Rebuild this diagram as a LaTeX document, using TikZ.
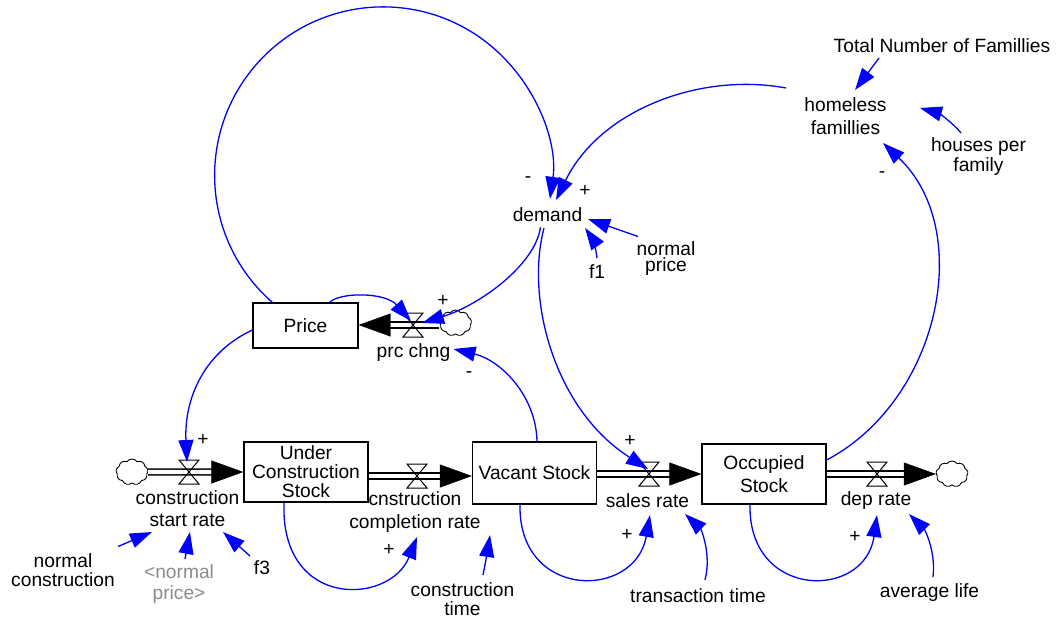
\documentclass[tikz,border=0pt]{standalone}
\usepackage{fontspec}
\setmainfont{Liberation Sans}
\usetikzlibrary{arrows.meta,calc,shapes.symbols}
\definecolor{vblue}{RGB}{0,0,255}
\definecolor{ghost}{RGB}{140,140,140}
\newcommand\vfs[1]{\fontsize{19.2}{#1}\selectfont}
\tikzset{valve/.pic={\draw[line width=1pt] (-10,-12) -- (10,-12) -- (-10,12) -- (10,12) -- cycle;}}
\begin{document}
\begin{tikzpicture}[x=1pt,y=-1pt,
  stock/.style={draw, line width=1.3pt, align=center, inner sep=0, font=\vfs{21}},
  lbl/.style={align=center, inner sep=0, font=\vfs{21}},
  conn/.style={vblue, line width=1.3pt, -{Triangle[length=22pt,width=15pt]}},
  pipe/.style={double distance=4.3pt, line width=1.5pt, shorten >=20pt},
  pipetip/.style={white, line width=0.4pt, -{Triangle[length=32pt,width=23pt,color=black,fill=black]}},
  cloudy/.style={cloud, cloud puffs=9, cloud puff arc=110, aspect=1.35, draw, line width=0.9pt, minimum width=32pt, minimum height=26pt, inner sep=0},
  vslot/.style={inner sep=0, minimum width=20pt, minimum height=24pt},
  sgn/.style={inner sep=0, font=\vfs{21}}
]
\fill[white] (0,0) rectangle (1056,618);
\useasboundingbox (0,0) rectangle (1056,618);

% stocks
\node[stock, minimum width=105pt, minimum height=45pt] (price) at (305.5,325.5) {Price};
\node[stock, minimum width=124pt, minimum height=60pt, font=\vfs{19}] (ucs) at (306,472) {Under\\Construction\\Stock};
\node[stock, minimum width=124pt, minimum height=62pt] (vac) at (534.5,473) {Vacant Stock};
\node[stock, minimum width=124pt, minimum height=60pt, font=\vfs{23}] (occ) at (764,474) {Occupied\\Stock};

% clouds
\node[cloudy] (c1) at (132,472) {};
\node[cloudy] (c2) at (952,474) {};
\node[cloudy] (cp) at (455.5,323) {};

% valves
\node[vslot] (v1) at (189,472) {};
\node[vslot] (v2) at (417,476) {};
\node[vslot] (v3) at (649,474) {};
\node[vslot] (v4) at (877,474) {};
\node[vslot] (vp) at (413,325) {};

% pipes
\draw[pipe] (c1.east) -- (ucs.west);
\draw[pipetip] (c1.east) -- (ucs.west);
\draw[pipe] (ucs.east |- v2) -- (vac.west |- v2);
\draw[pipetip] (ucs.east |- v2) -- (vac.west |- v2);
\draw[pipe] (vac.east |- v3) -- (occ.west |- v3);
\draw[pipetip] (vac.east |- v3) -- (occ.west |- v3);
\draw[pipe] (occ.east |- v4) -- (c2.west |- v4);
\draw[pipetip] (occ.east |- v4) -- (c2.west |- v4);
\draw[pipe] (cp.west |- vp) -- (price.east |- vp);
\draw[pipetip] (cp.west |- vp) -- (price.east |- vp);

\pic at (v1) {valve};
\pic at (v2) {valve};
\pic at (v3) {valve};
\pic at (v4) {valve};
\pic at (vp) {valve};

% flow labels
\node[lbl, font=\vfs{22}] (v1lab) at (187.5,509) {construction\\start rate};
\node[lbl, font=\vfs{23}] (v2lab) at (415,512.5) {cnstruction\\completion rate};
\node[lbl] (v3lab) at (647.5,501) {sales rate};
\node[lbl] (v4lab) at (876,501) {dep rate};
\node[lbl] (vplab) at (413.5,353) {prc chng};

% auxiliaries
\node[lbl] (demand) at (547.5,215) {demand};
\node[lbl, font=\vfs{23}] (homeless) at (845.5,116.5) {homeless\\famillies};
\node[lbl] (total) at (942,46) {Total Number of Famillies};
\node[lbl, font=\vfs{20}] (hpf) at (978.5,157) {houses per\\family};
\node[lbl, font=\vfs{16}] (nprice) at (666,259) {normal\\price};
\node[lbl] (f1) at (597,272) {f1};
\node[lbl, font=\vfs{19}] (ncons) at (63,570.5) {normal\\construction};
\node[lbl, font=\vfs{21}, text=ghost] (np2) at (179,584.5) {<normal\\price>};
\node[lbl] (f3) at (262,568) {f3};
\node[lbl, font=\vfs{19}] (ctime) at (462.5,599) {construction\\time};
\node[lbl] (ttime) at (698,596) {transaction time};
\node[lbl] (alife) at (929.5,593) {average life};

% connectors
\draw[conn] ($(price.north east)+(-29,0)$) .. controls (340,292) and (385,292) .. ($(vp)+(-2,-4)$);
\draw[conn] ($(demand.south)+(-7,5)$) .. controls (535,265) and (480,305) .. ($(vp)+(9,-2)$);
\draw[conn] ($(price.north west)+(20,0)$) arc[start angle=131.1, end angle=368, radius=168.5];
\draw[conn] ($(homeless)+(-59.5,-28.5)$) .. controls (700,72) and (600,110) .. ($(demand)+(8.5,-15)$);
\draw[conn] ($(nprice)+(-28,-22.5)$) -- ($(demand)+(40.5,4)$);
\draw[conn] ($(f1)+(0,-14)$) .. controls (596,248) and (592,238) .. ($(demand)+(37.5,13)$);
\draw[conn] ($(demand)+(-3.5,13)$) .. controls (525,300) and (555,410) .. ($(v3)+(-1,-5)$);
\draw[conn] ($(vac.north)+(2.5,0)$) .. controls (536,395) and (500,360) .. ($(vplab)+(40,-4)$);
\draw[conn] ($(occ.east)+(0,-14)$) .. controls (940,400) and (975,230) .. ($(homeless)+(37.5,26.5)$);
\draw[conn] ($(total)+(-63,12)$) -- ($(homeless)+(9.5,-26.5)$);
\draw[conn] ($(hpf)+(-17.5,-24)$) .. controls (952,122) and (938,113) .. ($(homeless)+(74.5,-8.5)$);
\draw[conn] ($(price.west)+(0,4.5)$) .. controls (203,353) and (184,400) .. ($(v1)+(-2,-10)$);
\draw[conn] ($(ucs.south)+(-22,0)$) .. controls (280,610) and (390,605) .. ($(v2lab)+(2,24.5)$);
\draw[conn] ($(ctime)+(20.5,-24)$) .. controls (486,560) and (488,548) .. ($(v2lab)+(75,22.5)$);
\draw[conn] ($(vac.south)+(-14.5,0)$) .. controls (518,600) and (635,600) .. ($(v3lab)+(2.5,14)$);
\draw[conn] ($(ttime)+(7,-16)$) .. controls (712,552) and (700,528) .. ($(v3lab)+(37.5,13)$);
\draw[conn] ($(occ.south)+(-14,0)$) .. controls (748,600) and (865,600) .. ($(v4lab)+(1,14)$);
\draw[conn] ($(alife)+(3.5,-16)$) .. controls (936,552) and (925,530) .. ($(v4lab)+(33,13)$);
\draw[conn] ($(ncons)+(55,-24)$) -- ($(v1lab)+(-35.5,23)$);
\draw[conn] ($(np2)+(6,-25.5)$) -- ($(v1lab)+(2.5,23)$);
\draw[conn] ($(f3)+(-12,-12)$) -- ($(v1lab)+(35.5,23)$);

% polarity signs
\node[sgn] (s1) at (203,440) {+};
\node[sgn] (s2) at (443,301) {+};
\node[sgn] (s3) at (469,375) {-};
\node[sgn] (s4) at (528,180) {-};
\node[sgn] (s5) at (585,191) {+};
\node[sgn] (s6) at (882,175) {-};
\node[sgn] (s7) at (389,550) {+};
\node[sgn] (s8) at (627,535) {+};
\node[sgn] (s9) at (630,441) {+};
\node[sgn] (s10) at (855,537) {+};
\end{tikzpicture}
\end{document}
